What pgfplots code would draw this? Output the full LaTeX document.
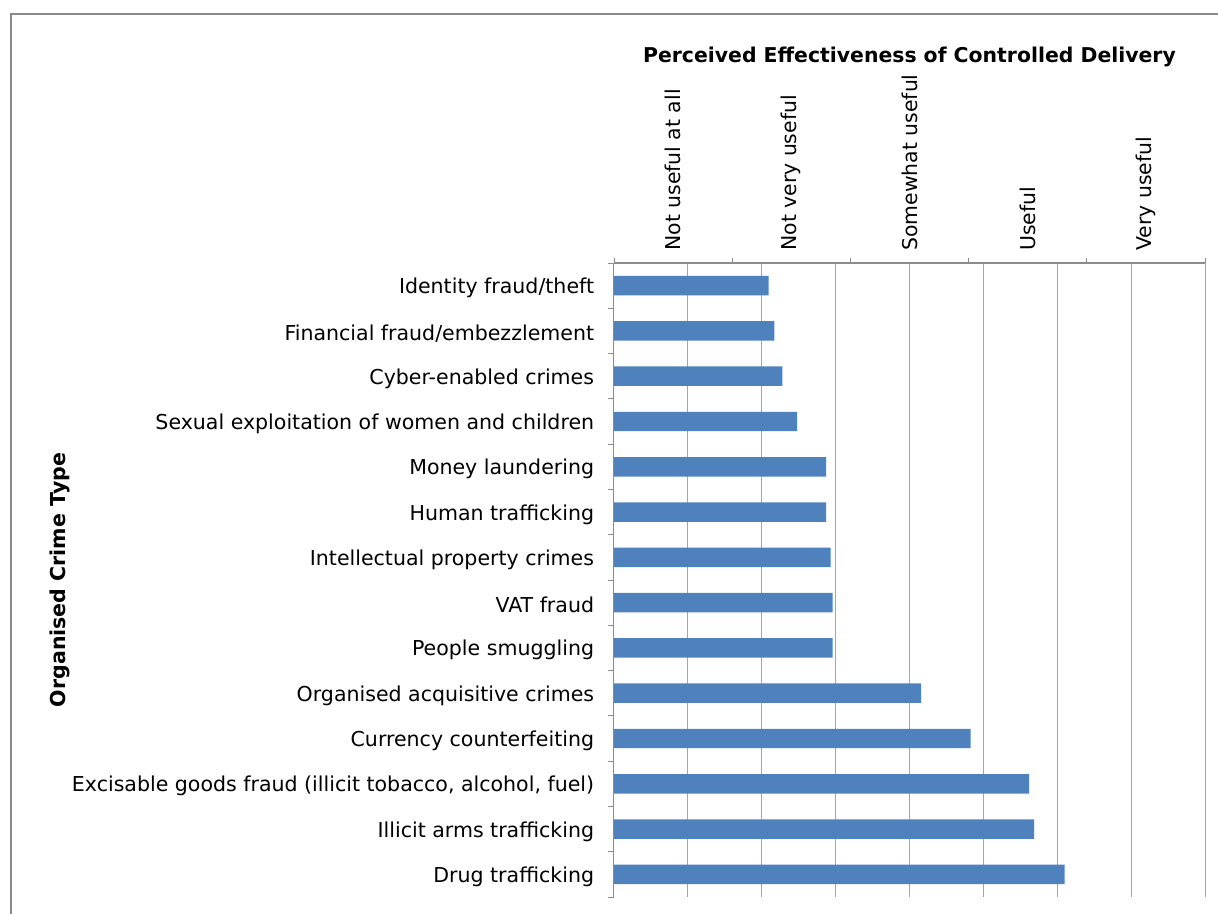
\documentclass[border=0pt]{standalone}
\usepackage{fontspec}
\setmainfont{DejaVu Sans}
\usepackage{pgfplots}
\pgfplotsset{compat=1.18}
\definecolor{barblue}{HTML}{4F81BD}
\definecolor{gridgray}{HTML}{A6A6A6}
\definecolor{axisgray}{HTML}{8C8C8C}
\definecolor{framegray}{HTML}{8A8A8A}

\begin{document}
\begin{tikzpicture}
% page is 1218 x 914 px at 0.75pt per px
\useasboundingbox (0,0) rectangle (913.5pt,685.5pt);
\draw[framegray, line width=1.5pt] (8.25pt,0pt) -- (8.25pt,675pt) -- (913.5pt,675pt);

% bars, grid and crime types
\begin{axis}[
    at={(460.5pt,488.25pt)}, anchor=north west,
    width=443.25pt, height=475.5pt, scale only axis,
    xmin=1, xmax=5, ymin=0.5, ymax=14.5, y dir=reverse,
    axis x line*=top, axis y line*=left,
    axis line style={axisgray, line width=0.75pt},
    xtick={1,1.5,...,5}, xticklabels={},
    xmajorgrids, grid style={gridgray, line width=0.75pt},
    ytick={1,...,14},
    yticklabels={Identity fraud/theft, Financial fraud/embezzlement, Cyber-enabled crimes,
        Sexual exploitation of women and children, Money laundering, Human trafficking,
        Intellectual property crimes, VAT fraud, People smuggling, Organised acquisitive crimes,
        Currency counterfeiting, {Excisable goods fraud (illicit tobacco, alcohol, fuel)},
        Illicit arms trafficking, Drug trafficking},
    minor ytick={0.5,1.5,...,14.5},
    tick align=outside, major tick length=0pt, minor tick length=4.5pt,
    minor tick style={axisgray, line width=0.75pt},
    yticklabel style={font=\fontsize{15.4}{18}\selectfont, inner xsep=0pt, xshift=-14.75pt, yshift=-1.8pt},
    ylabel={Organised Crime Type},
    ylabel style={font=\bfseries\fontsize{15.4}{18}\selectfont, at={(axis description cs:-0.937,0.5)}, anchor=center, rotate=0},
    title={Perceived Effectiveness of Controlled Delivery},
    title style={font=\bfseries\fontsize{15.3}{18}\selectfont, at={(axis description cs:0.5,1.312)}, anchor=center},
]
\addplot[xbar, fill=barblue, draw=none, bar width=14.6pt] coordinates {
    (2.047,1) (2.085,2) (2.139,3) (2.239,4) (2.435,5) (2.435,6) (2.467,7)
    (2.480,8) (2.480,9) (3.078,10) (3.414,11) (3.809,12) (3.843,13) (4.050,14)
};
\end{axis}

% top category scale
\begin{axis}[
    at={(460.5pt,488.25pt)}, anchor=north west,
    width=443.25pt, height=475.5pt, scale only axis,
    xmin=0, xmax=5, ymin=0, ymax=1,
    axis x line*=top, axis y line=none,
    axis line style={axisgray, line width=0.75pt},
    xtick={0.5,1.5,...,4.5},
    xticklabels={Not useful at all, Not very useful, Somewhat useful, Useful, Very useful},
    minor xtick={0,...,5},
    tick align=outside, major tick length=0pt, minor tick length=3.75pt,
    minor tick style={axisgray, line width=0.75pt},
    xticklabel style={font=\fontsize{15.3}{18}\selectfont, rotate=90, anchor=west, inner xsep=9pt},
]
\end{axis}
\end{tikzpicture}
\end{document}
